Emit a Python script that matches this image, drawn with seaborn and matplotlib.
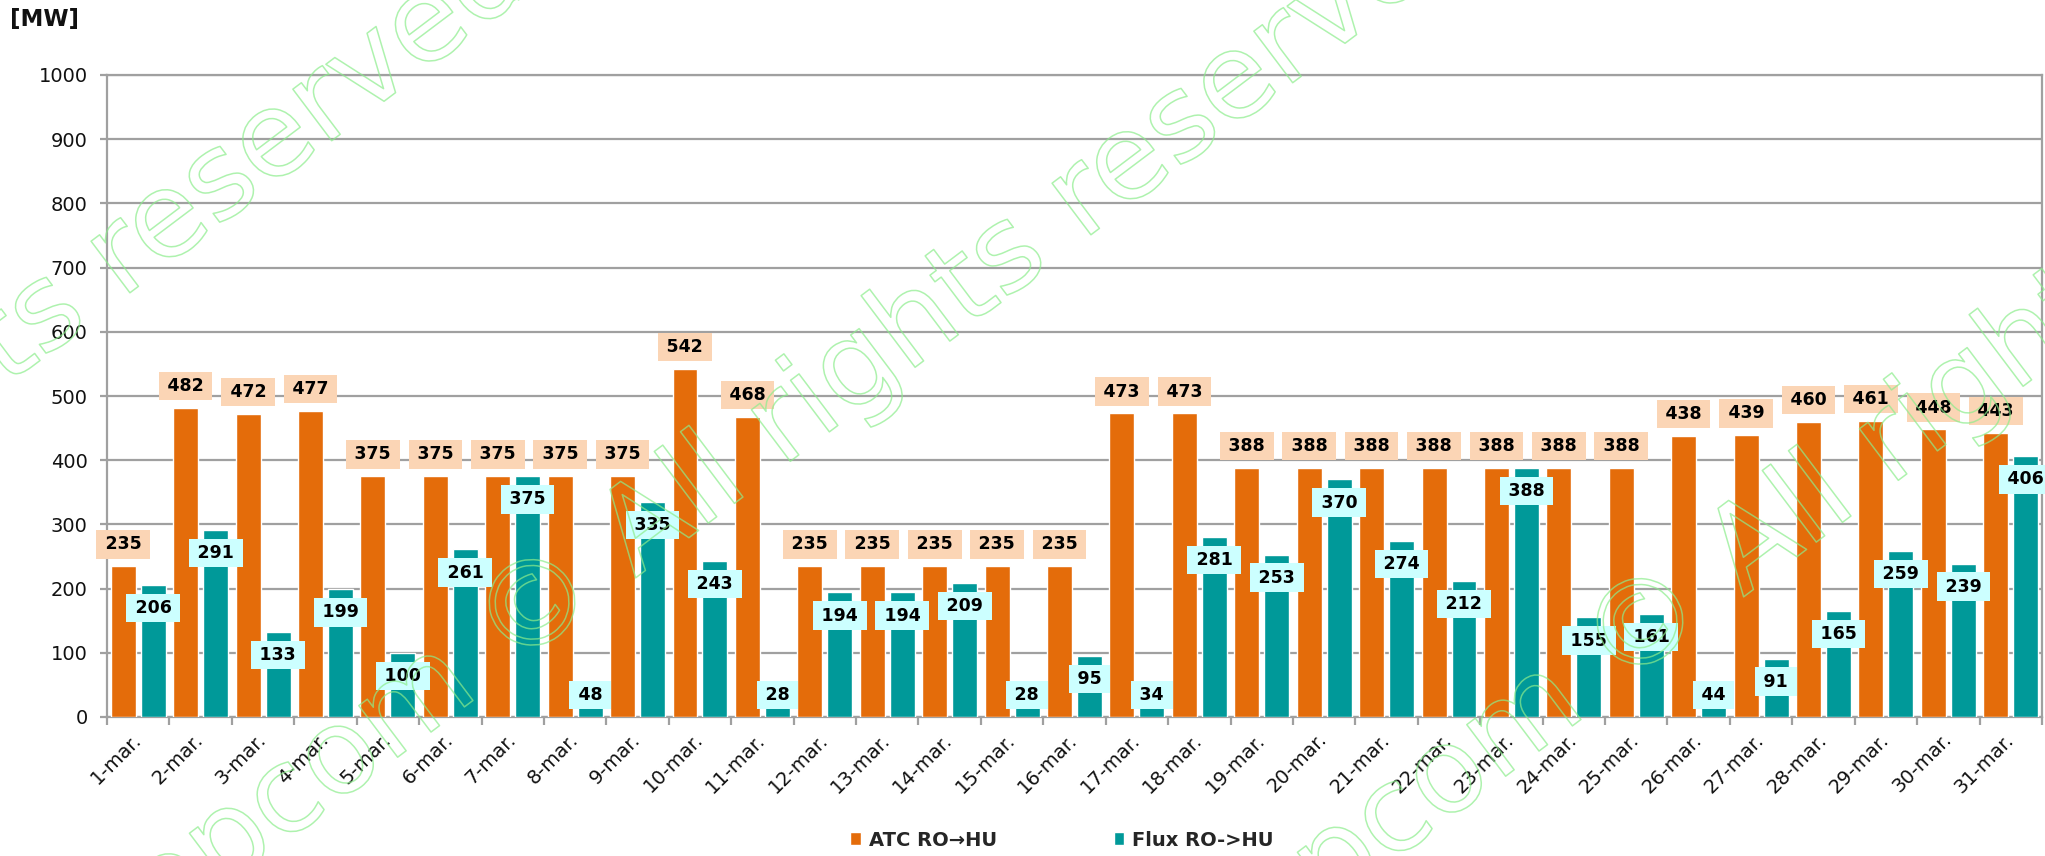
import numpy as np
import pandas as pd
import matplotlib
matplotlib.use('Agg')
import matplotlib.pyplot as plt
import matplotlib.patheffects as pe
import seaborn as sns

# ------------------------------------------------------------
# DATA
# ------------------------------------------------------------
days = [f"{d}-mar." for d in range(1, 32)]

atc_ro_hu = [235, 482, 472, 477, 375, 375, 375, 375, 375, 542,
             468, 235, 235, 235, 235, 235, 473, 473, 388, 388,
             388, 388, 388, 388, 388, 438, 439, 460, 461, 448, 443]

flux_ro_hu = [206, 291, 133, 199, 100, 261, 375, 48, 335, 243,
              28, 194, 194, 209, 28, 95, 34, 281, 253, 370,
              274, 212, 388, 155, 161, 44, 91, 165, 259, 239, 406]

series_names = ['ATC RO\u2192HU', 'Flux RO->HU']
y_ticks = list(range(0, 1001, 100))

ORANGE = '#E46C0A'
TEAL = '#009999'
PEACH = '#FBD5B5'
CYAN = '#CCFFFF'
GRID = '#A0A0A0'

df = pd.DataFrame({
    'day': days * 2,
    'series': [series_names[0]] * len(days) + [series_names[1]] * len(days),
    'value': atc_ro_hu + flux_ro_hu,
})

# ------------------------------------------------------------
# FIGURE
# ------------------------------------------------------------
sns.set_theme(style='white')
plt.rcParams['font.family'] = ['DejaVu Sans']

W, H = 2045, 856
fig = plt.figure(figsize=(W / 100, H / 100), dpi=100)
ax = fig.add_axes([107 / W, 1 - 717 / H, (2042 - 107) / W, (717 - 75) / H])

sns.barplot(data=df, x='day', y='value', hue='series', order=days,
            hue_order=series_names, palette=[ORANGE, TEAL],
            width=0.96, gap=0.167, saturation=1, ax=ax, zorder=2)

ax.set_xlim(-0.5, len(days) - 0.5)
ax.set_ylim(0, 1000)
ax.set_yticks(y_ticks)
ax.set_xlabel('')
ax.set_ylabel('')

ax.yaxis.grid(True, color=GRID, linewidth=1.6)
ax.set_axisbelow(True)
for s in ax.spines.values():
    s.set_color(GRID)
    s.set_linewidth(1.6)
    s.set_zorder(1)

ax.tick_params(axis='y', length=5, width=1.6, color=GRID, labelsize=14,
               labelcolor='#111111', pad=9, left=True)
ax.tick_params(axis='x', which='major', length=0, labelsize=14,
               labelcolor='#111111', pad=14)
ax.set_xticks(np.arange(-0.5, len(days), 1), minor=True)
ax.tick_params(axis='x', which='minor', length=6, width=1.6, color=GRID,
               bottom=True, direction='out')
for lbl in ax.get_xticklabels():
    lbl.set_rotation(45)
    lbl.set_ha('right')
    lbl.set_va('center')
    lbl.set_rotation_mode('anchor')

# ------------------------------------------------------------
# DATA LABELS
# ------------------------------------------------------------
for cont, face, below in zip(ax.containers, [PEACH, CYAN], [False, True]):
    for bar in cont:
        v = bar.get_height()
        xc = bar.get_x() + bar.get_width() / 2
        if below:
            y = max(v - 36, 34)
        else:
            y = v + 34
        ax.text(xc, y, f"\u2009{int(round(v))}\u2009", ha='center', va='center',
                fontsize=12.5, fontweight='bold', color='black', zorder=5,
                bbox=dict(boxstyle='square,pad=0.3', fc=face, ec='none'))

# ------------------------------------------------------------
# LEGEND / UNIT
# ------------------------------------------------------------
handles, labels = ax.get_legend_handles_labels()
if ax.legend_ is not None:
    ax.legend_.remove()
leg = fig.legend(handles, labels, loc='center', bbox_to_anchor=(1062 / W, 1 - 840 / H),
                 ncol=2, frameon=False, handlelength=0.55, handleheight=0.6,
                 handletextpad=0.4, columnspacing=6.0,
                 prop={'size': 14, 'weight': 'bold'})

fig.text(10 / W, 1 - 8 / H, '[MW]', ha='left', va='top', fontsize=16.5,
         fontweight='bold', color='#111111')

# ------------------------------------------------------------
# WATERMARK (outlined green text, drawn on top like the original)
# ------------------------------------------------------------
wm_fx = [pe.Stroke(linewidth=1.1, foreground=(0.55, 0.93, 0.55, 0.7))]
ang = np.deg2rad(37)
for cx, cy in [(535, 613), (1643, 632), (-426, 671)]:
    px, py = cx - 55 * np.cos(ang), cy + 55 * np.sin(ang)
    for txt, ha in [('opcom ', 'right'), ('\u00a9 All rights reserved', 'left')]:
        fig.text(px / W, 1 - py / H, txt, ha=ha, va='center', rotation=37,
                 rotation_mode='anchor', fontsize=85, color='none',
                 path_effects=wm_fx, zorder=10)

fig.savefig('out.png', dpi=100)
